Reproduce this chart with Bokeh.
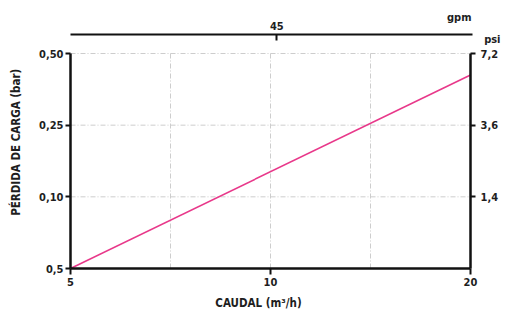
import numpy as np
from bokeh.plotting import figure
from bokeh.models import (Range1d, LogAxis, LinearAxis, FixedTicker, LogScale, Label)
from bokeh.embed import file_html
from bokeh.resources import INLINE

# --- data ---
x_ticks = [5, 10, 20]                        # CAUDAL (m3/h)
y_tick_values = [0.05, 0.10, 0.25, 0.50]     # bar, equally spaced on the chart
y_tick_labels = ["0,5", "0,10", "0,25", "0,50"]
psi_tick_labels = ["", "1,4", "3,6", "7,2"]
gpm_ticks = [45]
M3H_TO_GPM = 4.4029

caudal = [5, 20]
perdida_bar = [0.05, 0.425]

# positions on the equally spaced y scale
idx = list(range(len(y_tick_values)))
y_pos = np.interp(perdida_bar, y_tick_values, idx)

# --- layout geometry (canvas pixels) ---
W, H = 503, 309
AX_L, AX_R = 70, 470          # x pixel of left/right axes
AX_B, AX_T = 268, 53          # y pixel (from top) of bottom axis / top tick row
TOP_AX = 34                   # y pixel of gpm axis
D = (AX_R - AX_L) / np.log10(x_ticks[-1] / x_ticks[0])   # px per decade
U = (AX_B - AX_T) / (len(idx) - 1)                          # px per y unit

def xd(px):
    return x_ticks[0] * 10 ** ((px - AX_L) / D)

def yd(py):
    return (AX_B - py) / U

FONT = "DejaVu Sans Condensed"
TXT = "#1e1e1e"

p = figure(width=W, height=H, x_axis_type="log",
           x_range=Range1d(xd(0), xd(W)), y_range=Range1d(yd(H), yd(0)),
           output_backend="svg", toolbar_location=None,
           min_border=0)
p.outline_line_color = None
p.xgrid.visible = False
p.ygrid.visible = False

# grid (dash-dot), limited to the chart area
gx = [np.sqrt(x_ticks[0] * x_ticks[1]), x_ticks[1], np.sqrt(x_ticks[1] * x_ticks[2])]
p.segment(x0=gx, y0=[idx[0]] * 3, x1=gx, y1=[idx[-1]] * 3,
          line_color="#cdcdcd", line_width=1, line_dash="5 2 1 2")
p.segment(x0=[x_ticks[0]] * 3, y0=idx[1:], x1=[x_ticks[-1]] * 3, y1=idx[1:],
          line_color="#cdcdcd", line_width=1, line_dash="5 2 1 2")

p.line(caudal, y_pos, line_color="#E8388A", line_width=1.6)

# bottom axis
xa = p.xaxis[0]
xa.ticker = FixedTicker(ticks=x_ticks)
xa.major_label_overrides = {t: str(t) for t in x_ticks}
xa.fixed_location = idx[0]
xa.bounds = (x_ticks[0], x_ticks[-1])

# left axis
ya = p.yaxis[0]
ya.ticker = FixedTicker(ticks=idx)
ya.major_label_overrides = {i: l for i, l in zip(idx, y_tick_labels)}
ya.fixed_location = x_ticks[0]
ya.bounds = (idx[0], idx[-1])

# right axis (psi)
ra = LinearAxis(ticker=FixedTicker(ticks=idx[1:]),
                major_label_overrides={i: l for i, l in zip(idx, psi_tick_labels)},
                fixed_location=x_ticks[-1], bounds=(idx[0], idx[-1]))
p.add_layout(ra, "right")

# top axis (gpm)
p.extra_x_ranges = {"gpm": Range1d(xd(0) * M3H_TO_GPM, xd(W) * M3H_TO_GPM)}
p.extra_x_scales = {"gpm": LogScale()}
ta = LogAxis(x_range_name="gpm", ticker=FixedTicker(ticks=gpm_ticks),
             major_label_overrides={t: str(t) for t in gpm_ticks},
             fixed_location=yd(TOP_AX),
             bounds=(x_ticks[0] * M3H_TO_GPM, xd(AX_R + 2) * M3H_TO_GPM))
p.add_layout(ta, "above")

for ax in [xa, ya, ra, ta]:
    ax.axis_line_color = "#111111"
    ax.axis_line_width = 2.5
    ax.major_tick_line_color = "#111111"
    ax.major_tick_line_width = 2
    ax.minor_tick_line_color = None
    ax.major_label_text_font = FONT
    ax.major_label_text_font_style = "bold"
    ax.major_label_text_font_size = "11px"
    ax.major_label_text_color = TXT
    ax.major_tick_in = 0
    ax.major_tick_out = 5
ta.axis_line_width = 2
ta.major_tick_in = 6
ta.major_tick_out = 0
ta.major_label_standoff = 5
xa.major_tick_out = 6
xa.major_label_standoff = 3
ya.major_label_standoff = 2
ra.major_tick_out = 5
ra.major_label_standoff = 5

def lab(text, px, py, align="center", angle=0.0, size="11px"):
    p.add_layout(Label(x=xd(px), y=yd(py), text=text, text_align=align,
                       text_baseline="middle", angle=angle,
                       text_font=FONT, text_font_style="bold",
                       text_font_size=size, text_color=TXT))

lab("gpm", AX_R + 1, 17, align="right")
lab("psi", W - 3, 39, align="right")
lab("CAUDAL (m³/h)", 258, 302, size="11.5px")
lab("PÉRDIDA DE CARGA  (bar)", 15, 140, angle=np.pi / 2, size="11.5px")

open("out.html", "w").write(file_html(p, INLINE))
